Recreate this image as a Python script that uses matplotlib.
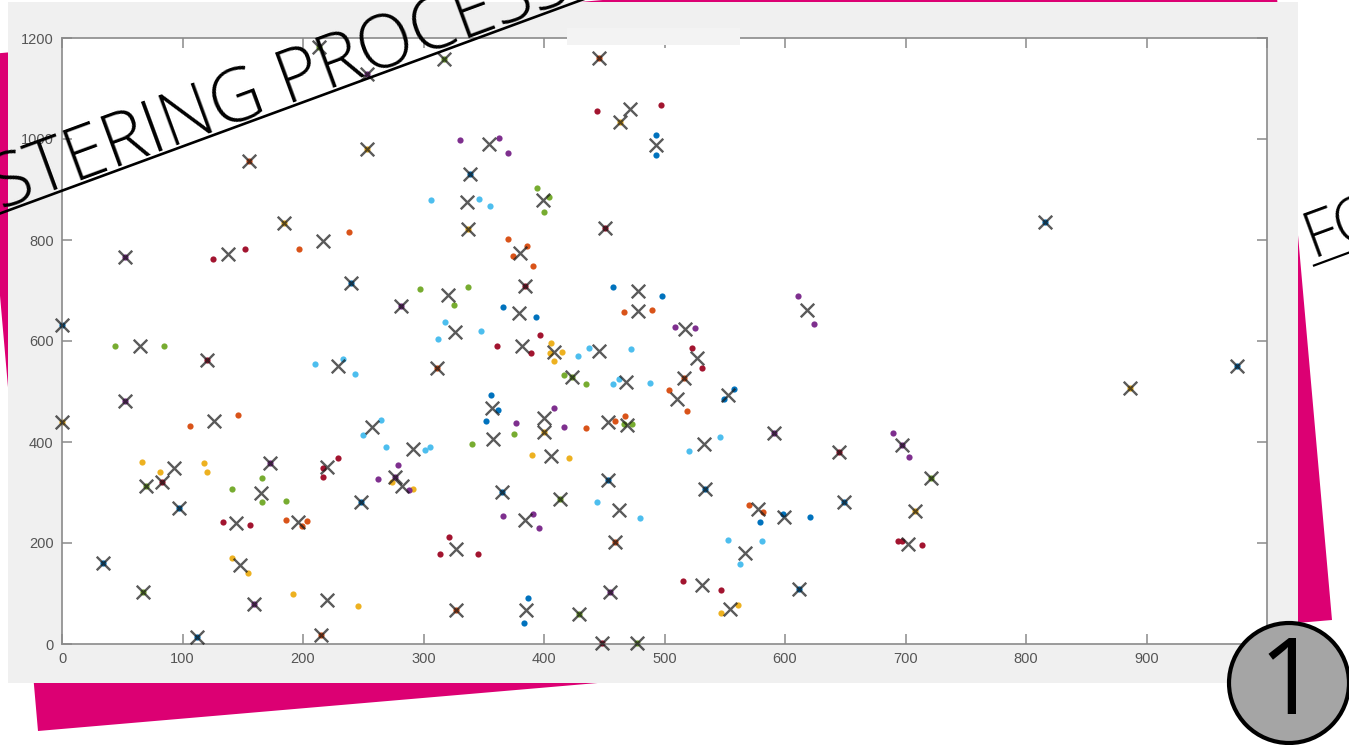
import matplotlib
matplotlib.use("Agg")
import matplotlib.pyplot as plt
from matplotlib.lines import Line2D
from matplotlib.patches import Ellipse, Polygon, Rectangle

# point data per cluster colour
blue_x = [493, 493, 366, 393, 457, 498, 356, 362, 352, 387, 383, 549, 558, 579, 598, 621,
          339, 240, 0, 97, 34, 112, 248, 365, 453, 534, 649, 612, 816, 975]
blue_y = [1007, 969, 667, 648, 707, 690, 494, 463, 441, 92, 41, 486, 504, 242, 257, 251,
          930, 715, 631, 270, 160, 13, 282, 301, 325, 307, 282, 108, 836, 550]

orange_x = [238, 197, 370, 386, 374, 391, 466, 490, 106, 146, 186, 203, 199, 504, 519, 435,
            459, 467, 570, 582, 155, 446, 311, 516, 459, 327, 215]
orange_y = [816, 783, 802, 789, 768, 748, 657, 661, 431, 453, 245, 244, 234, 503, 462, 427,
            441, 452, 275, 261, 957, 1161, 547, 526, 201, 67, 18]

yellow_x = [66, 81, 118, 120, 141, 154, 192, 246, 406, 405, 415, 408, 274, 291, 390, 421,
            547, 561, 253, 184, 337, 463, 0, 400, 708, 886]
yellow_y = [361, 340, 359, 340, 171, 141, 100, 76, 597, 577, 578, 561, 321, 307, 374, 369,
            61, 77, 981, 834, 821, 1033, 440, 420, 263, 506]

purple_x = [330, 363, 370, 509, 525, 611, 624, 262, 279, 288, 377, 408, 417, 366, 391, 396,
            690, 703, 253, 52, 52, 281, 173, 159, 276, 455, 591, 697]
purple_y = [998, 1002, 972, 628, 626, 690, 633, 326, 354, 305, 437, 468, 430, 253, 257, 230,
            418, 371, 1129, 766, 481, 669, 359, 79, 331, 102, 417, 395]

green_x = [394, 404, 400, 297, 337, 325, 44, 85, 166, 141, 166, 186, 417, 435, 340, 375,
           473, 466, 213, 317, 67, 70, 413, 429, 477, 721, 423]
green_y = [903, 885, 855, 702, 707, 671, 590, 590, 328, 307, 282, 283, 532, 514, 396, 415,
           435, 436, 1183, 1159, 102, 313, 288, 59, 1, 329, 528]

cyan_x = [306, 346, 355, 318, 348, 312, 210, 233, 243, 250, 428, 437, 472, 457, 462, 488,
          265, 269, 301, 305, 520, 444, 480, 546, 553, 581, 563]
cyan_y = [880, 882, 867, 638, 619, 603, 554, 565, 534, 414, 570, 586, 584, 514, 524, 516,
          443, 390, 384, 390, 383, 282, 250, 410, 206, 204, 159]

red_x = [152, 125, 444, 497, 397, 217, 217, 229, 134, 156, 361, 389, 321, 314, 345, 515,
         523, 531, 694, 697, 714, 547, 120, 83, 451, 384, 645, 448]
red_y = [783, 763, 1055, 1067, 611, 349, 331, 369, 242, 235, 590, 576, 211, 178, 179, 125,
         587, 547, 203, 203, 197, 106, 562, 320, 824, 708, 381, 1]

# cluster centres
cent_x = [213, 253, 253, 155, 184, 217, 138, 52, 240, 0,
          317, 446, 471, 463, 493, 354, 339, 336, 399, 337, 451, 380, 384, 320, 281, 379,
          326, 478, 478, 517, 618,
          65, 120, 229, 52, 0, 126, 257, 93, 70, 83, 97, 173, 165, 144, 196, 220, 248, 34,
          148, 67, 159, 220, 112, 215,
          382, 408, 446, 311, 423, 468, 516, 510, 357, 358, 291, 276, 282, 400, 400, 453,
          469, 406, 365, 413, 453, 462, 384, 459, 327, 455, 385, 327, 429, 448, 477,
          527, 553, 591, 533, 645, 697, 721, 534, 649, 578, 599, 708, 567, 702, 531, 612,
          554, 816, 886, 975]
cent_y = [1183, 1129, 981, 957, 834, 799, 772, 766, 715, 631,
          1159, 1161, 1060, 1033, 988, 990, 930, 875, 880, 821, 824, 775, 708, 692, 669, 656,
          618, 699, 659, 624, 661,
          590, 562, 551, 481, 440, 442, 429, 349, 313, 320, 270, 359, 299, 239, 241, 350,
          282, 160, 156, 102, 79, 87, 13, 18,
          590, 578, 580, 547, 528, 519, 526, 486, 468, 406, 387, 331, 313, 447, 420, 439,
          433, 372, 301, 288, 325, 266, 245, 201, 189, 102, 67, 67, 59, 1, 1,
          567, 493, 417, 397, 381, 395, 329, 307, 282, 267, 251, 263, 181, 199, 117, 108,
          69, 836, 506, 550]

x_ticks = [0, 100, 200, 300, 400, 500, 600, 700, 800, 900, 1000]
x_labels = ["0", "100", "200", "300", "400", "500", "600", "700", "800", "900", ""]
y_ticks = [0, 200, 400, 600, 800, 1000, 1200]

W, H = 1349, 745
PINK = "#dc0073"
SLIDE_FONT = ["Open Sans", "Lato", "DejaVu Sans"]


def fpos(x, y):
    return (x / W, 1 - y / H)


fig = plt.figure(figsize=(W / 100, H / 100), dpi=100)

# slide decoration behind the screenshot
fig.patches.append(Polygon([fpos(-21, 55), fpos(1272, -59), fpos(1332, 620), fpos(38, 731)],
                           closed=True, transform=fig.transFigure, facecolor=PINK,
                           edgecolor="none", zorder=0.1))
fig.patches.append(Rectangle(fpos(8, 683), 1290 / W, 681 / H, transform=fig.transFigure,
                             facecolor="#f0f0f0", edgecolor="none", zorder=0.2))

ax = fig.add_axes([62 / W, 1 - 644 / H, 1205 / W, 606 / H])
ax.set_zorder(1)
ax.set_facecolor("white")

series = [
    (blue_x, blue_y, "#0072BD"),
    (orange_x, orange_y, "#D95319"),
    (yellow_x, yellow_y, "#EDB120"),
    (purple_x, purple_y, "#7E2F8E"),
    (green_x, green_y, "#77AC30"),
    (cyan_x, cyan_y, "#4DBEEE"),
    (red_x, red_y, "#A2142F"),
]
for xs, ys, col in series:
    ax.scatter(xs, ys, s=20, color=col, linewidths=0, zorder=2, clip_on=False)
ax.scatter(cent_x, cent_y, s=95, marker="x", color="#1a1a1a", alpha=0.72,
           linewidths=1.7, zorder=3, clip_on=False)

ax.set_xlim(0, 1000)
ax.set_ylim(0, 1200)
ax.set_xticks(x_ticks)
ax.set_xticklabels(x_labels)
ax.set_yticks(y_ticks)
for sp in ax.spines.values():
    sp.set_color("#8a8a8a")
    sp.set_linewidth(1.2)
ax.tick_params(direction="in", length=7, width=1.1, color="#8a8a8a", top=True, right=True,
               labelsize=10.5, labelcolor="#555555", pad=6)
for lab in ax.get_xticklabels() + ax.get_yticklabels():
    lab.set_family("Liberation Sans")

# pale strip over the top edge of the axes
fig.patches.append(Rectangle(fpos(567, 45), 173 / W, 17 / H, transform=fig.transFigure,
                             facecolor="#f3f3f3", edgecolor="none", zorder=2))

# rotated slide headings with underline
angle = 20.15
fig.text(*fpos(574, -1), "CLUSTERING PROCESS", rotation=angle, rotation_mode="anchor",
         ha="right", va="baseline", fontsize=52.5, family=SLIDE_FONT, weight="light",
         color="black", zorder=3)
fig.lines.append(Line2D([-5 / W, 595 / W], [1 - 215.3 / H, 1 + 5 / H],
                        transform=fig.transFigure, color="black", lw=1.9, zorder=3))
fig.text(*fpos(1312, 258), "FO", rotation=angle, rotation_mode="anchor",
         ha="left", va="baseline", fontsize=46, family=SLIDE_FONT, weight="light",
         color="black", zorder=3)
fig.lines.append(Line2D([1314 / W, 1360 / W], [1 - 265.5 / H, 1 - 248.5 / H],
                        transform=fig.transFigure, color="black", lw=1.6, zorder=3))

# step badge
fig.patches.append(Ellipse(fpos(1289, 683), 120 / W, 120 / H, transform=fig.transFigure,
                           facecolor="#a5a5a5", edgecolor="black", lw=3.0, zorder=4))
fig.text(*fpos(1289, 686), "1", ha="center", va="center", fontsize=76,
         family=SLIDE_FONT, weight="normal", color="black", zorder=5)

fig.savefig("out.png", dpi=100)
